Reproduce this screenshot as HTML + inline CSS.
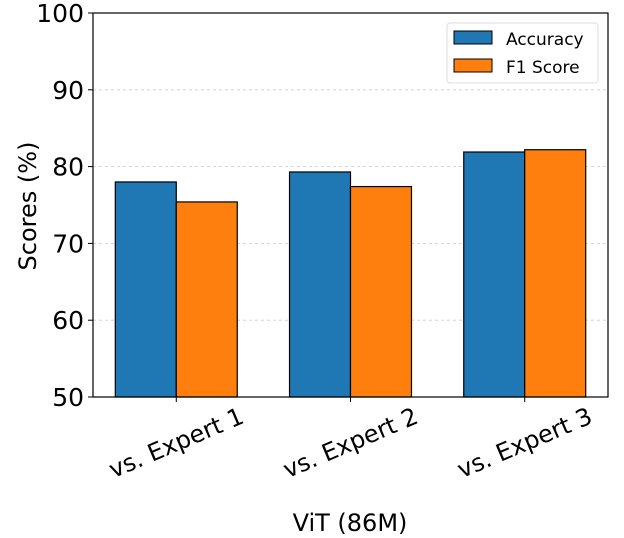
<!DOCTYPE html>
<html><head><meta charset="utf-8"><style>
html,body{margin:0;padding:0;background:#fff;}
svg{display:block;font-family:"DejaVu Sans","Liberation Sans",sans-serif;}
</style></head><body>
<svg id="chart" width="624" height="538"></svg>
<script>
const categories=["vs. Expert 1","vs. Expert 2","vs. Expert 3"];
const accuracy=[78.0,79.3,81.9];
const f1=[75.4,77.4,82.2];
const yTicks=[50,60,70,80,90,100];
const seriesNames=["Accuracy","F1 Score"];
const colors=["#1f77b4","#ff7f0e"];
const L=93,R=608,T=13,B=397;
const xmin=-0.478,xmax=2.478,ymin=50,ymax=100,bw=0.35;
const xs=v=>L+(v-xmin)/(xmax-xmin)*(R-L);
const ys=v=>B-(v-ymin)/(ymax-ymin)*(B-T);
const svg=document.getElementById('chart');
const NS="http://www.w3.org/2000/svg";
function mk(tag,attrs,parent){const e=document.createElementNS(NS,tag);for(const k in attrs)e.setAttribute(k,attrs[k]);(parent||svg).appendChild(e);return e;}
yTicks.forEach(t=>{
  if(t>ymin&&t<ymax){const g=mk('line',{x1:L,x2:R,y1:ys(t),y2:ys(t),stroke:'#ccc','stroke-dasharray':'3,3','stroke-width':0.8});
  
  }
  const tk=mk('line',{x1:L-5,x2:L,y1:ys(t),y2:ys(t),stroke:'#000','stroke-width':1});
  
  
  const tl=mk('text',{x:L-9,y:ys(t)+9,'text-anchor':'end','font-size':25,fill:'#000'});
  tl.textContent=t;
  
  
});
[accuracy,f1].forEach((s,si)=>{
  s.forEach((v,i)=>{
    const x0=xs(i+(si===0?-bw:0)),x1=xs(i+(si===0?0:bw));
    const r=mk('rect',{x:x0,y:ys(v),width:x1-x0,height:B-ys(v),fill:colors[si],stroke:'#000','stroke-width':1.2});
    
    
  });
});
categories.forEach((c,i)=>{
  const tk=mk('line',{x1:xs(i),x2:xs(i),y1:B,y2:B+5,stroke:'#000','stroke-width':1});
  
  
  const cx=xs(i),cy=B+46;
  const t=mk('text',{x:cx,y:cy+8,'text-anchor':'middle','font-size':24,fill:'#000',transform:`rotate(-23 ${cx} ${cy})`});
  t.textContent=c;
  
  
});
const fr=mk('rect',{x:L,y:T,width:R-L,height:B-T,fill:'none',stroke:'#000','stroke-width':1.2});


const yt=mk('text',{x:0,y:0,'text-anchor':'middle','font-size':24,fill:'#000',transform:'translate(36,206) rotate(-90)'});
yt.textContent='Scores (%)';


const xt=mk('text',{x:350,y:531,'text-anchor':'middle','font-size':24,fill:'#000'});
xt.textContent='ViT (86M)';


const lg=mk('g',{});


mk('rect',{x:447,y:23,width:151,height:60,rx:3,fill:'#fff',stroke:'#ddd','stroke-width':1},lg);
seriesNames.forEach((n,i)=>{
  const p=mk('rect',{x:454,y:31+i*28,width:38,height:13,fill:colors[i],stroke:'#000','stroke-width':1},lg);
  
  
  const t=mk('text',{x:506,y:45+i*28,'font-size':17,fill:'#000'},lg);
  t.textContent=n;
  
  
});
</script>
</body></html>
